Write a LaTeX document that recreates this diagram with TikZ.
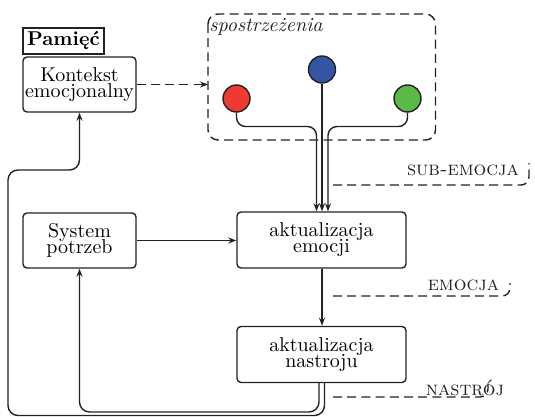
\documentclass[tikz,border=0pt]{standalone}
\usetikzlibrary{arrows.meta}
\definecolor{lncol}{HTML}{222222}
\definecolor{cred}{HTML}{EE3A30}
\definecolor{cblue}{HTML}{3454A4}
\definecolor{cgreen}{HTML}{5BB947}
\begin{document}
\begin{tikzpicture}[x=0.5pt,y=-0.5pt,
  ln/.style={line width=0.7pt, draw=lncol},
  box/.style={ln, rounded corners=2pt, align=center, inner sep=0pt, minimum width=56.5pt, minimum height=27.5pt},
  wbox/.style={box, minimum width=84.5pt, minimum height=28pt},
  dot/.style={circle, ln, minimum size=13.5pt, inner sep=0pt},
  arr/.style={ln, -{Stealth[length=4pt,width=3pt]}},
  dsh/.style={ln, dash pattern=on 4.5pt off 2.6pt},
  tag/.style={inner sep=0pt, anchor=base, font=\scshape, text=lncol}
]
\useasboundingbox (0,0) rectangle (535,417);

% perception group
\draw[dsh, rounded corners=5pt] (208,14) rectangle (435.5,140);
\node[inner sep=0pt, anchor=base west, font=\itshape, text=lncol] (sp) at (209,31.5) {spostrzeżenia};

% nodes
\node[ln, rectangle, font=\bfseries, inner sep=2pt, minimum width=40.5pt, minimum height=13pt] (pam) at (63.5,41) {Pamięć};
\node[box] (kon) at (79.5,84.5) {Kontekst\\[-4.2pt]emocjonalny};
\node[box] (sys) at (79.5,240.5) {System\\[-4.2pt]potrzeb};
\node[wbox] (emo) at (321.5,240) {aktualizacja\\[-4pt]emocji};
\node[wbox] (nas) at (321.5,354.5) {aktualizacja\\[-4pt]nastroju};

% wires from the circles
\coordinate (rj) at (316.5,126.5);
\coordinate (gj) at (328,126.5);
\node[dot, fill=cred] (red) at (236.5,98.5) {};
\node[dot, fill=cblue] (blue) at (322,69.5) {};
\node[dot, fill=cgreen] (green) at (407.5,98.5) {};
\draw[arr, rounded corners=4.5pt] (red.south) |- (rj) -- (rj |- emo.north);
\draw[arr] (blue.south) -- (blue.south |- emo.north);
\draw[arr, rounded corners=4.5pt] (green.south) |- (gj) -- (gj |- emo.north);

% connectors
\draw[arr, dash pattern=on 4.5pt off 2.6pt] (kon.east) -- (kon.east -| 208,0);
\draw[arr] (sys.east) -- (sys.east -| emo.west);
\draw[arr] (emo.south -| 322,0) -- (nas.north -| 322,0);

\coordinate (b1) at (319,412);
\coordinate (b2) at (324.5,415.5);
\coordinate (b3) at (8,170);
\draw[arr, rounded corners=5pt] (b1 |- nas.south) -- (b1) -| (sys.south);
\draw[arr, rounded corners=5pt] (b2 |- nas.south) -- (b2) -| (b3) -| (kon.south);

% output labels
\coordinate (s1) at (333,185); \coordinate (s2) at (529,163);
\coordinate (e1) at (333,296); \coordinate (e2) at (510,283);
\coordinate (n1) at (333,397); \coordinate (n2) at (488,378);
\draw[dsh, rounded corners=4pt] (s1) -| (s2);
\draw[dsh, rounded corners=4pt] (e1) -| (e2);
\draw[dsh, rounded corners=4pt] (n1) -| (n2);
\node[tag] (ts) at (463,176) {sub-emocja};
\node[tag] (te) at (463.5,290.5) {emocja};
\node[tag] (tn) at (465,395) {nastrój};
\end{tikzpicture}
\end{document}
